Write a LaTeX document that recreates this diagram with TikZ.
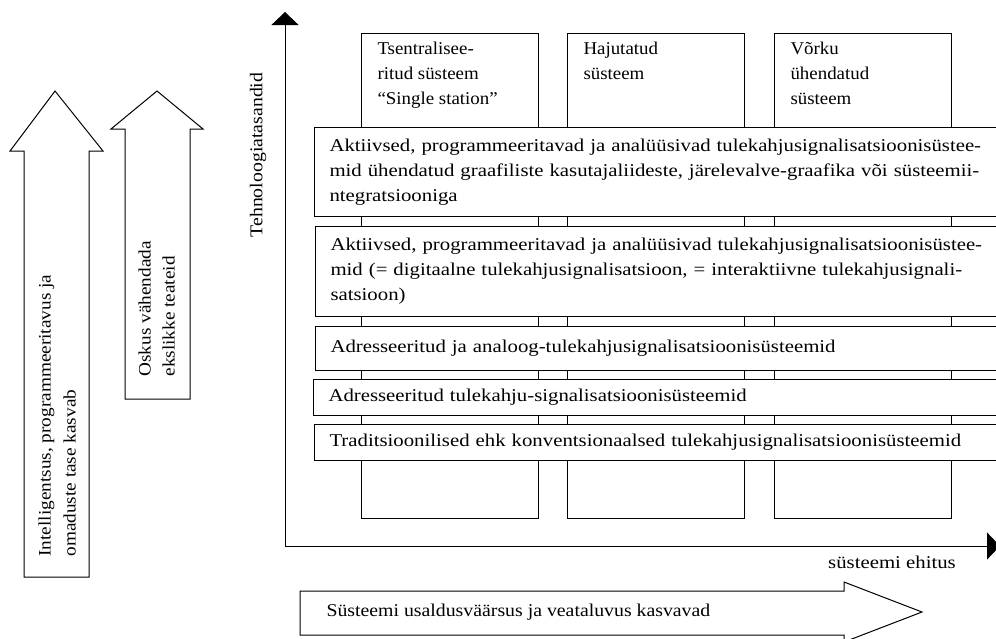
\documentclass[tikz,border=0pt]{standalone}
\usepackage{fontspec}
\setmainfont{Liberation Serif}[FakeStretch=1.1]
\newfontfamily\widefont{Liberation Serif}[FakeStretch=1.155]
\newfontfamily\narrowfont{Liberation Serif}[FakeStretch=1.05]
\usetikzlibrary{arrows.meta}
\begin{document}
\begin{tikzpicture}[x=1pt,y=-1pt,line width=1pt,
  font=\fontsize{18}{25}\selectfont,
  hbox/.style={draw,fill=white,anchor=north west,text width=690pt,align=left,
    inner xsep=15pt,inner ysep=0pt,minimum width=720pt,font=\widefont\fontsize{18}{25}\selectfont},
  colbox/.style={draw,anchor=north west,inner sep=0pt,minimum width=177pt,minimum height=485pt},
  coltext/.style={anchor=north west,align=left,inner sep=0pt,font=\narrowfont\fontsize{18}{25}\selectfont},
  bigarrow/.style={draw,fill=white,line join=miter},
  axis/.style={-{Triangle[length=13pt,width=27pt]}}
]
\clip (0,0) rectangle (996,638);
% left arrows
\draw[bigarrow] (24,577) -- (24,151) -- (10,151) -- (55,91) -- (103,151) -- (89,151) -- (89,577) -- cycle;
\node[rotate=90,anchor=north west,align=left,inner sep=0pt,font=\fontsize{17.5}{25}\selectfont] (la) at (38,557)
  {Intelligentsus, programmeeritavus ja\\omaduste tase kasvab};
\draw[bigarrow] (125,399) -- (125,129) -- (111,129) -- (157,91) -- (203,129) -- (190,129) -- (190,399) -- cycle;
\node[rotate=90,anchor=north west,align=left,inner sep=0pt,font=\fontsize{17.5}{24}\selectfont] (lb) at (138,377)
  {Oskus vähendada\\ekslikke teateid};
% columns
\node[colbox] (c1) at (361,33) {};
\node[colbox] (c2) at (567,33) {};
\node[colbox] (c3) at (774,33) {};
\node[coltext] (t1) at (377,42) {Tsentralisee-\\ritud süsteem\\“Single station”};
\node[coltext] (t2) at (583,42) {Hajutatud\\süsteem};
\node[coltext] (t3) at (790,42) {Võrku\\ühendatud\\süsteem};
% axes
\coordinate (O) at (285,546);
\coordinate (Ytop) at (285,12);
\coordinate (Xend) at (1000,546);
\draw[axis] (O) -- (Ytop);
\draw[axis] (O) -- (Xend);
\node[rotate=90] (yl) at (258,155) {Tehnoloogiatasandid};
\node[font=\widefont\fontsize{18}{25}\selectfont] (xl) at (892,562) {süsteemi ehitus};
% horizontal layers
\node[hbox,minimum height=89pt] (h1) at (314,127)
  {Aktiivsed, programmeeritavad ja analüüsivad tulekahjusignalisatsioonisüstee-\\mid ühendatud graafiliste kasutajaliideste, järelevalve-graafika või süsteemii-\\ntegratsiooniga};
\node[hbox,minimum height=90pt] (h2) at (315,226)
  {Aktiivsed, programmeeritavad ja analüüsivad tulekahjusignalisatsioonisüstee-\\mid (= digitaalne tulekahjusignalisatsioon, = interaktiivne tulekahjusignali-\\satsioon)};
\node[hbox,minimum height=44pt] (h3) at (315,326)
  {Adresseeritud ja analoog-tulekahjusignalisatsioonisüsteemid};
\node[hbox,minimum height=36pt] (h4) at (313,379)
  {Adresseeritud tulekahju-signalisatsioonisüsteemid};
\node[hbox,minimum height=36pt] (h5) at (314,424)
  {Traditsioonilised ehk konventsionaalsed tulekahjusignalisatsioonisüsteemid};
% bottom arrow
\draw[bigarrow] (300,591) -- (844,591) -- (844,582) -- (922,612) -- (844,642) -- (844,635) -- (300,635) -- cycle;
\node[anchor=west,inner sep=0pt] (bt) at (326,612) {Süsteemi usaldusväärsus ja veataluvus kasvavad};
\end{tikzpicture}
\end{document}
